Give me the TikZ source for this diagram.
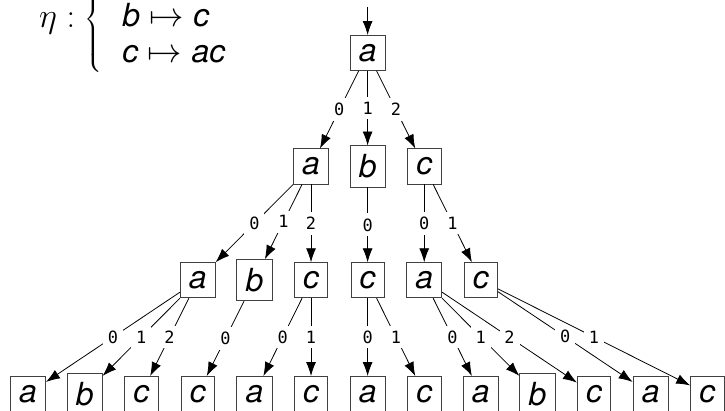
\documentclass[tikz,border=0pt]{standalone}
\usepackage{fontspec}
\newfontfamily\lettfont{TeX Gyre Heros}
\newfontfamily\digitfont{DejaVu Sans Mono}
\usetikzlibrary{arrows.meta}
\newcommand\symb[1]{\mbox{\lettfont\itshape #1}}
\newcommand\bigfont{\fontsize{16}{18}\selectfont}

\tikzset{
  sym/.style={draw=black!75, inner sep=4.4pt, font=\bigfont\lettfont\itshape},
  lbl/.style={fill=white, inner sep=2.5pt, font=\digitfont\fontsize{8.5}{10}\selectfont},
  arr/.style={-{Latex[length=7pt,width=5pt]}}
}

\begin{document}
\begin{tikzpicture}
    \useasboundingbox (-0.495,-0.30) rectangle (12.314,6.961);

        % the morphism
        \node[anchor=base west, inner sep=0pt, font=\bigfont] (eta) at (0.19,6.47)
          {$\eta : \left\{\begin{array}{@{\hspace{10pt}}l}
              \vphantom{b}\\
              \symb{b} \mapsto \symb{c}\\
              \symb{c} \mapsto \symb{ac}
            \end{array}\right.$};

        % level 0 and 1
        \coordinate (in) at (6,6.84);
        \node[sym] (r) at (6,6.025) {a};
        \node[sym] (u5) at (5,4.02) {a};
        \node[sym] (u6) at (6,4.02) {b};
        \node[sym] (u7) at (7,4.02) {c};

        % level 2
        \node[sym] (v3) at (3,2.01) {a};
        \node[sym] (v4) at (4,2.01) {b};
        \node[sym] (v5) at (5,2.01) {c};
        \node[sym] (v6) at (6,2.01) {c};
        \node[sym] (v7) at (7,2.01) {a};
        \node[sym] (v8) at (8,2.01) {c};

        % level 3
        \node[sym] (w0) at (0,0) {a};
        \node[sym] (w1) at (1,0) {b};
        \node[sym] (w2) at (2,0) {c};
        \node[sym] (w3) at (3,0) {c};
        \node[sym] (w4) at (4,0) {a};
        \node[sym] (w5) at (5,0) {c};
        \node[sym] (w6) at (6,0) {a};
        \node[sym] (w7) at (7,0) {c};
        \node[sym] (w8) at (8,0) {a};
        \node[sym] (w9) at (9,0) {b};
        \node[sym] (w10) at (10,0) {c};
        \node[sym] (w11) at (11,0) {a};
        \node[sym] (w12) at (12,0) {c};

        \draw[arr] (in) -- (r);
        \draw[arr] (r) -- node[lbl] {0} (u5);
        \draw[arr] (r) -- node[lbl] {1} (u6);
        \draw[arr] (r) -- node[lbl] {2} (u7);

        \draw[arr] (u5) -- node[lbl] {0} (v3);
        \draw[arr] (u5) -- node[lbl] {1} (v4);
        \draw[arr] (u5) -- node[lbl] {2} (v5);
        \draw[arr] (u6) -- node[lbl] {0} (v6);
        \draw[arr] (u7) -- node[lbl] {0} (v7);
        \draw[arr] (u7) -- node[lbl] {1} (v8);

        \draw[arr] (v3) -- node[lbl] {0} (w0);
        \draw[arr] (v3) -- node[lbl] {1} (w1);
        \draw[arr] (v3) -- node[lbl] {2} (w2);
        \draw[arr] (v4) -- node[lbl] {0} (w3);
        \draw[arr] (v5) -- node[lbl] {0} (w4);
        \draw[arr] (v5) -- node[lbl] {1} (w5);
        \draw[arr] (v6) -- node[lbl] {0} (w6);
        \draw[arr] (v6) -- node[lbl] {1} (w7);
        \draw[arr] (v7) -- node[lbl] {0} (w8);
        \draw[arr] (v7) -- node[lbl] {1} (w9);
        \draw[arr] (v7) -- node[lbl] {2} (w10);
        \draw[arr] (v8) -- node[lbl] {0} (w11);
        \draw[arr] (v8) -- node[lbl] {1} (w12);
    \end{tikzpicture}
\end{document}
